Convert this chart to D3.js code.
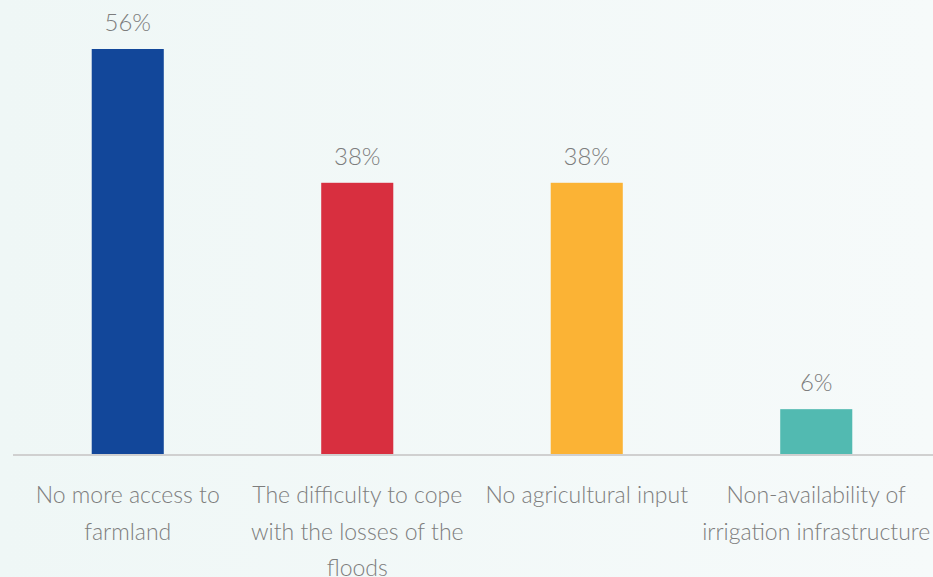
<!DOCTYPE html>
<html>
<head>
<meta charset="utf-8">
<script src="https://cdn.jsdelivr.net/npm/d3@7"></script>
<style>
  html, body { margin: 0; padding: 0; }
  body { width: 933px; height: 577px; overflow: hidden; }
  text { font-family: Lato, "Open Sans", sans-serif; font-weight: 300; }
</style>
</head>
<body>
<div id="chart"></div>
<script>
// categories, one entry per bar, lines split with "|"
const categories = [
  'No more access to|farmland',
  'The difficulty to cope|with the losses of the|floods',
  'No agricultural input',
  'Non-availability of|irrigation infrastructure'
];
const values = [56, 37.5, 37.5, 6.2];
const colors = ['#12479a', '#d82f3f', '#fbb335', '#52bab1'];

const width = 933, height = 577;
const baseline = 454;

const svg = d3.select('#chart').append('svg')
  .attr('width', width)
  .attr('height', height);

const defs = svg.append('defs');
const grad = defs.append('linearGradient')
  .attr('id', 'bg')
  .attr('x1', 0).attr('x2', 1).attr('y1', 0).attr('y2', 0);
grad.append('stop').attr('offset', 0).attr('stop-color', '#eff7f6');
grad.append('stop').attr('offset', 1).attr('stop-color', '#f6fafa');

svg.append('rect')
  .attr('width', width)
  .attr('height', height)
  .attr('fill', 'url(#bg)');

const x = d3.scaleBand()
  .domain(categories)
  .range([13, 931])
  .paddingInner(0.686)
  .paddingOuter(0.343);

const y = d3.scaleLinear()
  .domain([0, 56])
  .range([baseline, 49]);

const g = svg.append('g');

g.selectAll('.bar')
  .data(values)
  .enter().append('rect')
  .attr('class', 'bar')
  .attr('x', (d, i) => x(categories[i]))
  .attr('y', d => y(d))
  .attr('width', x.bandwidth())
  .attr('height', d => baseline - y(d))
  .attr('fill', (d, i) => colors[i]);

g.selectAll('.val')
  .data(values)
  .enter().append('text')
  .attr('class', 'val')
  .attr('x', (d, i) => x(categories[i]) + x.bandwidth() / 2)
  .attr('y', d => y(d) - 18)
  .attr('text-anchor', 'middle')
  .attr('fill', '#7d7d7d')
  .attr('font-size', '24px')
  .text(d => Math.round(d) + '%');

// axis line
const axis = svg.append('g')
  .attr('transform', `translate(0,${baseline + 1})`)
  .call(d3.axisBottom(x).tickSize(0).tickFormat(''));
axis.select('.domain')
  .attr('d', `M13,0H${width}`)
  .attr('stroke', '#d0d0d0')
  .attr('stroke-width', 2);

// category labels
axis.selectAll('.tick text').remove();
axis.selectAll('.tick').each(function(d) {
  const t = d3.select(this).append('text')
    .attr('fill', '#7d7d7d')
    .attr('font-size', '23px')
    .attr('text-anchor', 'middle')
    .attr('y', 48);
  d.split('|').forEach((line, i) => {
    t.append('tspan')
      .attr('x', 0)
      .attr('dy', i === 0 ? 0 : 36.5)
      .text(line);
  });
});
</script>
</body>
</html>
